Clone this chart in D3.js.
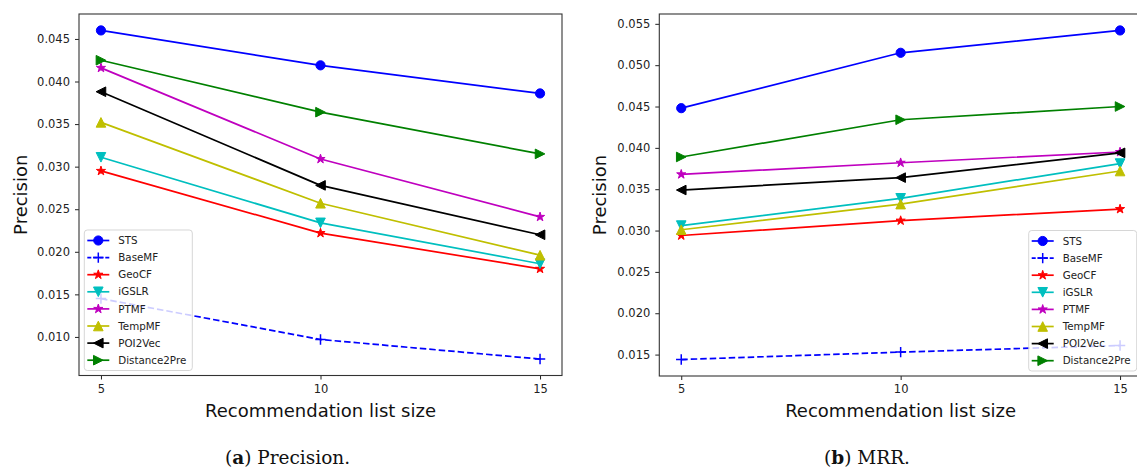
<!DOCTYPE html>
<html>
<head>
<meta charset="utf-8">
<script src="https://cdn.jsdelivr.net/npm/d3@7"></script>
<style>
  html, body { margin: 0; padding: 0; background: #fff; }
  svg { display: block; }
  text { font-family: "DejaVu Sans", sans-serif; }
</style>
</head>
<body>
<svg id="chart" width="1137" height="470"></svg>
<script>
// ---------- data ----------
const listSizes = [5, 10, 15];
const seriesNames = ["STS", "BaseMF", "GeoCF", "iGSLR", "PTMF", "TempMF", "POI2Vec", "Distance2Pre"];

// Panel (a) Precision
const precSTS          = [0.0460, 0.0419, 0.0386];
const precBaseMF       = [0.0145, 0.0097, 0.0074];
const precGeoCF        = [0.0295, 0.0222, 0.0180];
const precIGSLR        = [0.0311, 0.0234, 0.0186];
const precPTMF         = [0.0416, 0.0309, 0.0241];
const precTempMF       = [0.0352, 0.0257, 0.0196];
const precPOI2Vec      = [0.0388, 0.0278, 0.0220];
const precDistance2Pre = [0.0425, 0.0364, 0.0315];

// Panel (b) MRR
const mrrSTS          = [0.0448, 0.0515, 0.0542];
const mrrBaseMF       = [0.0144, 0.0153, 0.0161];
const mrrGeoCF        = [0.0294, 0.0312, 0.0326];
const mrrIGSLR        = [0.0306, 0.0339, 0.0381];
const mrrPTMF         = [0.0368, 0.0382, 0.0395];
const mrrTempMF       = [0.0301, 0.0332, 0.0372];
const mrrPOI2Vec      = [0.0349, 0.0364, 0.0394];
const mrrDistance2Pre = [0.0389, 0.0434, 0.0450];

const precYTicks = [0.010, 0.015, 0.020, 0.025, 0.030, 0.035, 0.040, 0.045];
const mrrYTicks  = [0.015, 0.020, 0.025, 0.030, 0.035, 0.040, 0.045, 0.050, 0.055];

const xLabel = "Recommendation list size";
const yLabel = "Precision";

// ---------- styles ----------
const styles = {
  STS:          { color: "#0000ff", marker: "o", dash: null },
  BaseMF:       { color: "#0000ff", marker: "+", dash: "6.5,3" },
  GeoCF:        { color: "#ff0000", marker: "*", dash: null },
  iGSLR:        { color: "#00bfbf", marker: "v", dash: null },
  PTMF:         { color: "#bf00bf", marker: "*", dash: null },
  TempMF:       { color: "#bfbf00", marker: "^", dash: null },
  POI2Vec:      { color: "#000000", marker: "<", dash: null },
  Distance2Pre: { color: "#008000", marker: ">", dash: null }
};

function markerPath(m, s) {
  switch (m) {
    case "o": return d3.symbol(d3.symbolCircle, Math.PI * s * s)();
    case "v": return `M${-s},${-s}L${s},${-s}L0,${s}Z`;
    case "^": return `M0,${-s}L${s},${s}L${-s},${s}Z`;
    case "<": return `M${-s},0L${s},${-s}L${s},${s}Z`;
    case ">": return `M${s},0L${-s},${s}L${-s},${-s}Z`;
    case "*": {
      let p = "";
      for (let i = 0; i < 10; i++) {
        const a = i * Math.PI / 5 - Math.PI / 2;
        const r = i % 2 === 0 ? s * 1.05 : s * 1.05 * 0.381966;
        p += (i === 0 ? "M" : "L") + (r * Math.cos(a)).toFixed(3) + "," + (r * Math.sin(a)).toFixed(3);
      }
      return p + "Z";
    }
    case "+": return `M${-s},0H${s}M0,${-s}V${s}`;
  }
}
const markerHalf = { o: 4.6, v: 4.8, "^": 4.8, "<": 4.8, ">": 4.8, "*": 4.6, "+": 5.2 };

function drawMarker(g, m, color, x, y) {
  return g.append("path")
    .attr("d", markerPath(m, markerHalf[m]))
    .attr("transform", `translate(${x},${y})`)
    .attr("stroke", color)
    .attr("stroke-width", m === "+" ? 1.5 : 1)
    .attr("stroke-linejoin", "miter")
    .attr("fill", m === "+" ? "none" : color);
}

const svg = d3.select("#chart");
svg.append("rect").attr("width", 1137).attr("height", 470).attr("fill", "#fff");

function drawPanel(cfg) {
  const { x0, x1, y0, y1, data, yTicks, legendSide, yLabelX, caption, captionBold, captionX } = cfg;
  const x = d3.scaleLinear().domain([4.5, 15.5]).range([x0, x1]);
  const all = data.flat();
  const lo = d3.min(all), hi = d3.max(all), pad = (hi - lo) * 0.05;
  const y = d3.scaleLinear().domain([lo - pad, hi + pad]).range([y1, y0]);

  const g = svg.append("g");

  const clipId = "clip" + Math.round(x0);
  svg.append("clipPath").attr("id", clipId).append("rect")
    .attr("x", x0).attr("y", y0).attr("width", x1 - x0).attr("height", y1 - y0);

  const plot = g.append("g").attr("clip-path", `url(#${clipId})`);
  const line = d3.line().x((d, i) => x(listSizes[i])).y(d => y(d));

  seriesNames.forEach((name, si) => {
    const st = styles[name];
    const vals = data[si];
    plot.append("path")
      .attr("d", line(vals))
      .attr("fill", "none")
      .attr("stroke", st.color)
      .attr("stroke-width", 1.7)
      .attr("stroke-dasharray", st.dash)
      .attr("stroke-linejoin", "round");
    vals.forEach((v, i) => drawMarker(plot, st.marker, st.color, x(listSizes[i]), y(v)));
  });

  const yAxis = d3.axisLeft(y).tickValues(yTicks).tickFormat(d3.format(".3f")).tickSize(4).tickPadding(5);
  const xAxis = d3.axisBottom(x).tickValues(listSizes).tickFormat(d3.format("d")).tickSize(4).tickPadding(5);
  const ya = g.append("g").attr("transform", `translate(${x0},0)`).call(yAxis);
  const xa = g.append("g").attr("transform", `translate(0,${y1})`).call(xAxis);
  [ya, xa].forEach(a => {
    a.select(".domain").remove();
    a.selectAll(".tick line").attr("stroke", "#222").attr("stroke-width", 1);
    a.selectAll(".tick text").attr("fill", "#222").style("font-size", "11.5px").style("font-family", "DejaVu Sans");
  });

  g.append("rect").attr("x", x0).attr("y", y0).attr("width", x1 - x0).attr("height", y1 - y0)
    .attr("fill", "none").attr("stroke", "#333").attr("stroke-width", 1.1);

  g.append("text").attr("x", (x0 + x1) / 2).attr("y", 416.5)
    .attr("text-anchor", "middle").style("font-size", "18px").attr("fill", "#111").text(xLabel);
  g.append("text").attr("transform", `translate(${yLabelX},${(y0 + y1) / 2}) rotate(-90)`)
    .attr("text-anchor", "middle").style("font-size", "18px").attr("fill", "#111").text(yLabel);

  const lw = 108, lh = 140.5;
  const lx = legendSide === "left" ? x0 + 5.3 : x1 - 5.3 - lw;
  const ly = y1 - 5 - lh;
  const lg = g.append("g");
  lg.append("rect").attr("x", lx).attr("y", ly).attr("width", lw).attr("height", lh)
    .attr("rx", 3).attr("fill", "#fff").attr("fill-opacity", 0.8)
    .attr("stroke", "#cccccc").attr("stroke-opacity", 0.8).attr("stroke-width", 1);
  seriesNames.forEach((name, i) => {
    const st = styles[name];
    const ry = ly + 10.5 + i * 17.1;
    lg.append("line").attr("x1", lx + 3).attr("x2", lx + 25).attr("y1", ry).attr("y2", ry)
      .attr("stroke", st.color).attr("stroke-width", 1.7).attr("stroke-dasharray", st.dash ? "4,2" : null);
    drawMarker(lg, st.marker, st.color, lx + 14, ry);
    lg.append("text").attr("x", lx + 34).attr("y", ry).attr("dy", "0.35em")
      .style("font-size", "10.3px").attr("fill", "#222").text(name);
  });

  const cap = svg.append("text").attr("x", captionX).attr("y", 463.5).attr("text-anchor", "middle")
    .style("font-family", "'DejaVu Serif', serif").style("font-size", "18.5px").attr("fill", "#111");
  cap.append("tspan").text("(");
  cap.append("tspan").style("font-weight", "bold").text(captionBold);
  cap.append("tspan").text(") " + caption);
}

drawPanel({
  x0: 79, x1: 562, y0: 14, y1: 375.5,
  data: [precSTS, precBaseMF, precGeoCF, precIGSLR, precPTMF, precTempMF, precPOI2Vec, precDistance2Pre],
  yTicks: precYTicks, legendSide: "left", yLabelX: 27,
  captionBold: "a", caption: "Precision.", captionX: 287.5
});
drawPanel({
  x0: 659.3, x1: 1142, y0: 14, y1: 376,
  data: [mrrSTS, mrrBaseMF, mrrGeoCF, mrrIGSLR, mrrPTMF, mrrTempMF, mrrPOI2Vec, mrrDistance2Pre],
  yTicks: mrrYTicks, legendSide: "right", yLabelX: 606,
  captionBold: "b", caption: "MRR.", captionX: 867
});
</script>
</body>
</html>
